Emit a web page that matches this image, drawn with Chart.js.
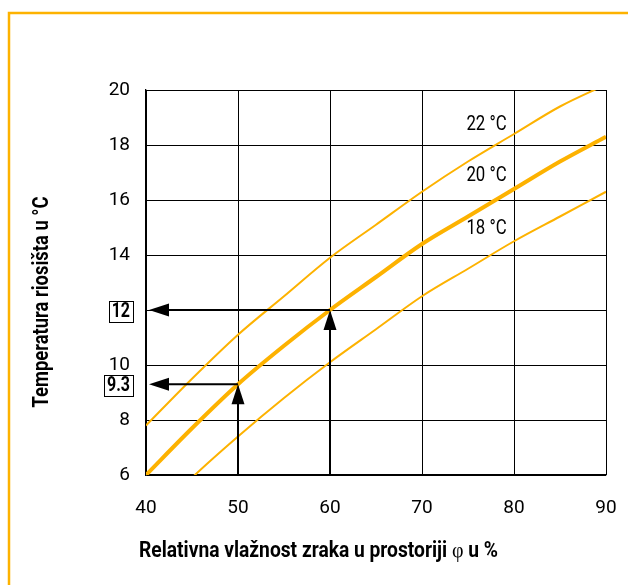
<!DOCTYPE html>
<html>
<head>
<meta charset="utf-8">
<script src="https://cdn.jsdelivr.net/npm/chart.js@4.4.0/dist/chart.umd.min.js"></script>
<style>
  html, body { margin: 0; padding: 0; background: #fff; }
</style>
</head>
<body>
<canvas id="chart" width="628" height="585"></canvas>
<script>
// relative humidity (%) and dew point (°C) for three room temperatures
const humidity = [40, 45, 50, 55, 60, 65, 70, 75, 80, 85, 90];
const dew18 = [4.2, 5.9, 7.4, 8.8, 10.1, 11.3, 12.5, 13.5, 14.5, 15.4, 16.3];
const dew20 = [6.0, 7.7, 9.3, 10.7, 12.0, 13.2, 14.4, 15.4, 16.4, 17.4, 18.3];
const dew22 = [7.8, 9.5, 11.1, 12.5, 13.9, 15.1, 16.3, 17.4, 18.4, 19.4, 20.2];
const seriesLabels = ["18 °C", "20 °C", "22 °C"];

const readHumidity = [50, 60];
const readDew = [9.3, 12];

const xTitle = "Relativna vlažnost zraka u prostoriji ";
const xTitleSymbol = "φ";
const xTitleEnd = " u %";
const yTitle = "Temperatura riosišta u °C";

const ORANGE = "#FDB200";
const SANS = "Roboto, 'Liberation Sans', sans-serif";

function pts(ys) {
  return humidity.map((h, i) => ({ x: h, y: ys[i] }));
}

// condensed-looking text: squeeze horizontally around the anchor
function narrowText(ctx, txt, x, y, font, align, sx) {
  ctx.save();
  ctx.font = font;
  ctx.textAlign = align;
  ctx.translate(x, y);
  ctx.scale(sx, 1);
  ctx.fillText(txt, 0, 0);
  ctx.restore();
  ctx.font = font;
  return ctx.measureText(txt).width * sx;
}

// ================================
// frame + titles + arrows
// ================================
const framePlugin = {
  id: "frame",
  beforeDraw(chart) {
    const ctx = chart.ctx;
    ctx.save();
    ctx.fillStyle = "#fff";
    ctx.fillRect(0, 0, chart.width, chart.height);
    ctx.strokeStyle = ORANGE;
    ctx.lineWidth = 2.5;
    ctx.beginPath();
    ctx.moveTo(9, chart.height);
    ctx.lineTo(9, 13);
    ctx.lineTo(chart.width, 13);
    ctx.stroke();
    ctx.restore();
  }
};

function arrowHead(ctx, x, y, dir) {
  const len = 20, half = 6.5;
  ctx.beginPath();
  ctx.moveTo(x, y);
  if (dir === "left") {
    ctx.lineTo(x + len, y - half);
    ctx.lineTo(x + len, y + half);
  } else {
    ctx.lineTo(x - half, y + len);
    ctx.lineTo(x + half, y + len);
  }
  ctx.closePath();
  ctx.fill();
}

const notesPlugin = {
  id: "notes",
  afterDatasetsDraw(chart) {
    const ctx = chart.ctx;
    const xs = chart.scales.x, ys = chart.scales.y;
    const area = chart.chartArea;
    ctx.save();

    // guide arrows
    ctx.strokeStyle = "#000";
    ctx.fillStyle = "#000";
    ctx.lineWidth = 2;
    readHumidity.forEach((h, i) => {
      const px = xs.getPixelForValue(h);
      const py = ys.getPixelForValue(readDew[i]);
      ctx.beginPath();
      ctx.moveTo(px, area.bottom);
      ctx.lineTo(px, py + 18);
      ctx.moveTo(px, py);
      ctx.lineTo(area.left + 20, py);
      ctx.stroke();
      arrowHead(ctx, px, py, "up");
      arrowHead(ctx, area.left + 3, py, "left");
    });

    // boxed read-off values on the y axis
    ctx.textBaseline = "middle";
    ctx.lineWidth = 1;
    readDew.forEach(d => {
      const py = Math.round(ys.getPixelForValue(d)) + 1;
      const w = narrowText(ctx, String(d), 130, py + 1, "bold 20px " + SANS, "right", 0.8);
      ctx.strokeRect(Math.round(130 - w - 3) + 0.5, py - 10 + 0.5, Math.round(w + 6), 21);
    });

    // curve labels
    const labelAt = [14.95, 16.87, 18.75];
    seriesLabels.forEach((t, i) => {
      narrowText(ctx, t, xs.getPixelForValue(79.2), ys.getPixelForValue(labelAt[i]),
        "21px " + SANS, "right", 0.8);
    });

    // axis titles, squeezed to the printed widths
    const bold = "bold 22px " + SANS;
    const serif = "20px 'Liberation Serif', serif";
    ctx.font = bold;
    const wA = ctx.measureText(xTitle).width, wC = ctx.measureText(xTitleEnd).width;
    ctx.font = serif;
    const wB = ctx.measureText(xTitleSymbol).width;
    const sx = (359 - wB) / (wA + wC);
    let x = 139;
    const ty = 551;
    x += narrowText(ctx, xTitle, x, ty, bold, "left", sx);
    x += narrowText(ctx, xTitleSymbol, x, ty + 1, serif, "left", 1);
    narrowText(ctx, xTitleEnd, x, ty, bold, "left", sx);

    ctx.font = bold;
    const sy = 211 / ctx.measureText(yTitle).width;
    ctx.translate(42, 302);
    ctx.rotate(-Math.PI / 2);
    narrowText(ctx, yTitle, 0, 0, bold, "center", sy);
    ctx.restore();
  }
};

const tickFont = { family: SANS, size: 19 };

new Chart(document.getElementById("chart"), {
  type: "line",
  data: {
    datasets: [
      { label: seriesLabels[0], data: pts(dew18), borderColor: ORANGE, borderWidth: 2 },
      { label: seriesLabels[1], data: pts(dew20), borderColor: ORANGE, borderWidth: 4 },
      { label: seriesLabels[2], data: pts(dew22), borderColor: ORANGE, borderWidth: 2 }
    ]
  },
  options: {
    responsive: false,
    animation: false,
    clip: 0,
    layout: { padding: { top: 90, right: 22, left: 0, bottom: 0 } },
    elements: {
      point: { radius: 0 },
      line: { cubicInterpolationMode: "monotone" }
    },
    plugins: { legend: { display: false }, tooltip: { enabled: false } },
    scales: {
      x: {
        type: "linear",
        min: 40,
        max: 90,
        ticks: { stepSize: 10, padding: 22, color: "#000", font: tickFont },
        grid: { color: "#000", lineWidth: 1, drawTicks: false },
        border: { color: "#000", width: 1.3 },
        afterFit(s) { s.height = 110; s.paddingRight = 0; s.paddingLeft = 0; }
      },
      y: {
        type: "linear",
        min: 6,
        max: 20,
        ticks: {
          stepSize: 2,
          padding: 16,
          color: "#000",
          font: tickFont,
          callback: v => (readDew.includes(v) ? "" : v)
        },
        grid: { color: "#000", lineWidth: 1, drawTicks: false },
        border: { color: "#000", width: 1.3 },
        afterFit(s) { s.width = 146; s.paddingTop = 0; s.paddingBottom = 0; }
      }
    }
  },
  plugins: [framePlugin, notesPlugin]
});
</script>
</body>
</html>
